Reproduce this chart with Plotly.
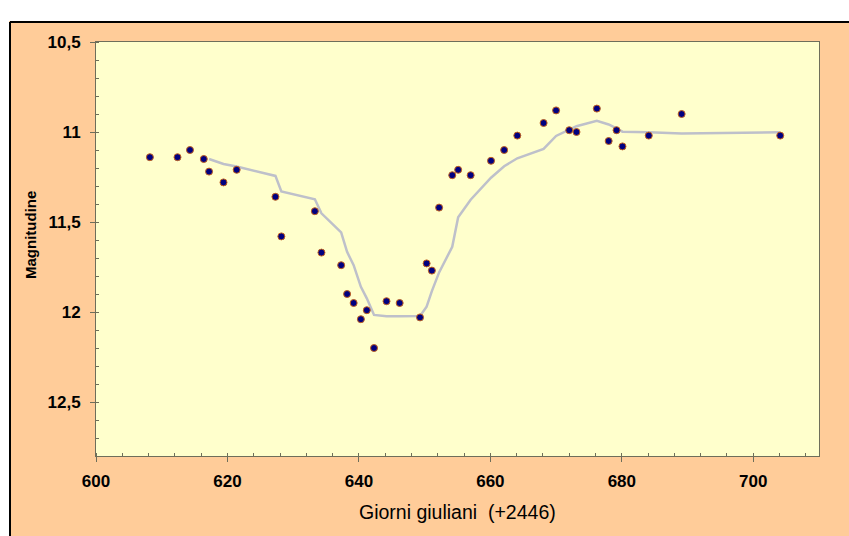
import plotly.graph_objects as go

# Observations: Julian day (+2446) and magnitude
days = [608.2, 612.4, 614.3, 616.4, 617.2, 619.4, 621.4, 627.3, 628.2, 633.3,
        634.3, 637.3, 638.2, 639.2, 640.3, 641.2, 642.3, 644.2, 646.2, 649.3,
        650.3, 651.1, 652.2, 654.2, 655.1, 657.0, 660.1, 662.1, 664.1, 668.1,
        670.0, 672.0, 673.1, 676.2, 678.0, 679.2, 680.1, 684.1, 689.1, 704.1]
mags = [11.14, 11.14, 11.10, 11.15, 11.22, 11.28, 11.21, 11.36, 11.58, 11.44,
        11.67, 11.74, 11.90, 11.95, 12.04, 11.99, 12.20, 11.94, 11.95, 12.03,
        11.73, 11.77, 11.42, 11.24, 11.21, 11.24, 11.16, 11.10, 11.02, 10.95,
        10.88, 10.99, 11.00, 10.87, 11.05, 10.99, 11.08, 11.02, 10.90, 11.02]

# Trend line (moving average as drawn on the chart), starting at the 5th observation
trend_days = days[4:]
trend_mags = [11.150, 11.178, 11.192, 11.244, 11.330, 11.374, 11.452, 11.558, 11.666,
              11.740, 11.860, 11.924, 12.016, 12.024, 12.024, 12.022, 11.970, 11.884,
              11.780, 11.638, 11.474, 11.376, 11.254, 11.190, 11.146, 11.094, 11.022,
              10.988, 10.968, 10.938, 10.958, 10.980, 10.998, 11.002, 11.008, 11.002]

x_title = "Giorni giuliani  (+2446)"
y_title = "Magnitudine"

W, H = 849, 536
L, R, T, B = 96, 30, 42, 80
pw, ph = W - L - R, H - T - B

def px_x(p):
    return (p - L) / pw

def px_y(p):
    return (H - B - p) / ph

FONT = "Arial, Liberation Sans, sans-serif"
ORANGE = "#FFCC99"
YELLOW = "#FFFFCC"
AX = "#6E6E5A"

fig = go.Figure()
fig.add_trace(go.Scatter(
    x=trend_days, y=trend_mags, mode="lines",
    line=dict(color="#BEC0CA", width=2.5),
    hoverinfo="skip", showlegend=False))
fig.add_trace(go.Scatter(
    x=days, y=mags, mode="markers",
    marker=dict(color="#000080", size=7, line=dict(color="#C06020", width=1)),
    showlegend=False))

fig.update_layout(
    width=W, height=H,
    margin=dict(l=L, r=R, t=T, b=B),
    paper_bgcolor=ORANGE, plot_bgcolor=YELLOW,
    separators=",.",
    font=dict(family=FONT, size=17, color="black"),
    showlegend=False,
    shapes=[
        dict(type="rect", xref="paper", yref="paper", layer="above",
             x0=px_x(-5), x1=px_x(W + 5), y0=px_y(21), y1=px_y(-5),
             fillcolor="white", line=dict(width=0)),
        dict(type="rect", xref="paper", yref="paper", layer="above",
             x0=px_x(-5), x1=px_x(9), y0=px_y(H + 5), y1=px_y(-5),
             fillcolor="white", line=dict(width=0)),
        dict(type="line", xref="paper", yref="paper", layer="above",
             x0=px_x(10), x1=px_x(W + 5), y0=px_y(22), y1=px_y(22),
             line=dict(color="black", width=2)),
        dict(type="line", xref="paper", yref="paper", layer="above",
             x0=px_x(10), x1=px_x(10), y0=px_y(22), y1=px_y(H + 5),
             line=dict(color="black", width=2)),
    ],
    annotations=[
        dict(text=y_title, xref="paper", yref="paper", x=px_x(31), y=px_y(235),
             xanchor="center", yanchor="middle", textangle=-90, showarrow=False,
             font=dict(family=FONT, size=15, color="black", weight="bold")),
        dict(text=x_title, xref="paper", yref="paper", x=0.5, y=px_y(512),
             xanchor="center", yanchor="middle", showarrow=False,
             font=dict(family=FONT, size=19.5, color="black")),
    ],
)

fig.update_xaxes(
    range=[600, 710], tick0=600, dtick=20,
    showgrid=False, zeroline=False,
    showline=True, linecolor=AX, linewidth=1, mirror=True,
    ticks="outside", ticklen=5, tickcolor=AX, tickwidth=1,
    ticklabelstandoff=5,
    tickfont=dict(family=FONT, size=17, color="black", weight="bold"),
    minor=dict(tick0=600, dtick=4, ticks="inside", ticklen=3, tickcolor=AX, showgrid=False),
)
fig.update_yaxes(
    range=[12.8, 10.5], tick0=10.5, dtick=0.5,
    showgrid=False, zeroline=False,
    showline=True, linecolor=AX, linewidth=1, mirror=True,
    ticks="outside", ticklen=5, tickcolor=AX, tickwidth=1,
    ticklabelstandoff=6,
    tickfont=dict(family=FONT, size=17, color="black", weight="bold"),
    minor=dict(tick0=10.5, dtick=0.1, ticks="inside", ticklen=3, tickcolor=AX, showgrid=False),
)

fig.write_html("out.html")
